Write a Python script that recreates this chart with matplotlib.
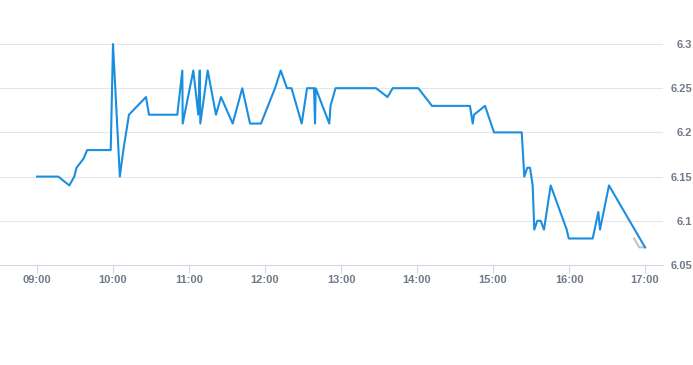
import numpy as np
import matplotlib
matplotlib.use("Agg")
import matplotlib.pyplot as plt

# time in hours, price
t_price = [9.0, 9.28, 9.425, 9.49, 9.52, 9.61, 9.66, 9.97, 10.0, 10.09, 10.136, 10.21,
           10.434, 10.474, 10.846, 10.912, 10.917, 11.057, 11.122, 11.141, 11.149, 11.246,
           11.355, 11.421, 11.575, 11.701, 11.803, 11.947, 12.132, 12.207, 12.289, 12.349,
           12.483, 12.553, 12.645, 12.658, 12.667, 12.846, 12.862, 12.928, 13.461, 13.612,
           13.68, 14.017, 14.197, 14.697, 14.733, 14.75, 14.895, 15.013, 15.378, 15.412,
           15.451, 15.487, 15.522, 15.543, 15.583, 15.628, 15.671, 15.759, 15.97, 15.996,
           16.312, 16.386, 16.408, 16.526, 17.0]
price = [6.15, 6.15, 6.14, 6.15, 6.16, 6.17, 6.18, 6.18, 6.30, 6.15, 6.18, 6.22,
         6.24, 6.22, 6.22, 6.27, 6.21, 6.27, 6.22, 6.27, 6.21, 6.27,
         6.22, 6.24, 6.21, 6.25, 6.21, 6.21, 6.25, 6.27, 6.25, 6.25,
         6.21, 6.25, 6.25, 6.21, 6.25, 6.21, 6.23, 6.25, 6.25, 6.24,
         6.25, 6.25, 6.23, 6.23, 6.21, 6.22, 6.23, 6.20, 6.20, 6.15,
         6.16, 6.16, 6.14, 6.09, 6.10, 6.10, 6.09, 6.14, 6.09, 6.08,
         6.08, 6.11, 6.09, 6.14, 6.07]

# short grey series at the end
t_grey = [16.857, 16.923, 17.0]
grey = [6.08, 6.07, 6.07]

hours = [9, 10, 11, 12, 13, 14, 15, 16, 17]
hour_labels = ["%02d:00" % h for h in hours]
yticks = [6.05, 6.1, 6.15, 6.2, 6.25, 6.3]
ylabels = ["6.05", "6.1", "6.15", "6.2", "6.25", "6.3"]

W, H = 693, 365
fig = plt.figure(figsize=(W/100., H/100.), dpi=100)
ax = fig.add_axes([0, (H-265)/float(H), 663./W, (265-44)/float(H)])

ax.plot(t_grey, grey, color="#bcc5c9", lw=1.5, clip_on=False, zorder=2)
ax.plot(t_price, price, color="#1a8fe0", lw=1.5, clip_on=False, zorder=3)

# 09:00 sits at px 37, 76 px per hour
ax.set_xlim(9 - 37/76., 9 + (663-37)/76.)
ax.set_ylim(6.05, 6.3)

ax.set_xticks(hours)
ax.set_xticklabels(hour_labels)
ax.set_yticks(yticks)
ax.set_yticklabels(ylabels)

ax.yaxis.tick_right()
ax.grid(axis="y", color="#e6e6e6", lw=0.75)
ax.set_axisbelow(True)
for s in ["left", "right", "top"]:
	ax.spines[s].set_visible(False)
ax.spines["bottom"].set_color("#ccd6eb")
ax.spines["bottom"].set_linewidth(0.75)

lab = dict(fontfamily="Liberation Sans", fontsize=8, fontweight="bold", color="#707a88")
ax.tick_params(axis="x", length=6, width=0.75, color="#ccd6eb", pad=1)
# right aligned labels ending near px 692
ax.tick_params(axis="y", length=0, pad=(692-663)*0.72)
for t in ax.get_xticklabels() + ax.get_yticklabels():
	t.set(**lab)
for t in ax.get_yticklabels():
	t.set_horizontalalignment("right")

fig.savefig("out.png", dpi=100)
